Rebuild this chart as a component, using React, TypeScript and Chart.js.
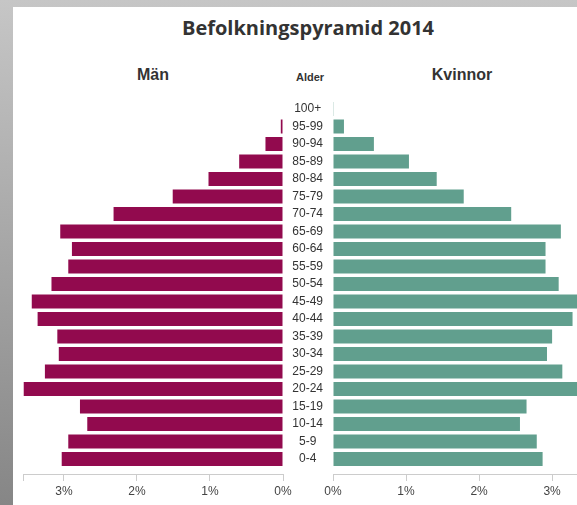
import React, { useEffect, useRef } from "react";
import { Chart, registerables } from "chart.js";

Chart.register(...registerables);

const ageGroups = [
  "100+", "95-99", "90-94", "85-89", "80-84", "75-79", "70-74", "65-69",
  "60-64", "55-59", "50-54", "45-49", "40-44", "35-39", "30-34", "25-29",
  "20-24", "15-19", "10-14", "5-9", "0-4",
];
const menShare = [
  0, 0.03, 0.24, 0.6, 1.02, 1.51, 2.32, 3.05, 2.89, 2.94, 3.17, 3.44, 3.36,
  3.09, 3.07, 3.26, 3.55, 2.78, 2.68, 2.94, 3.03,
];
const womenShare = [
  0.01, 0.15, 0.56, 1.04, 1.42, 1.79, 2.44, 3.12, 2.91, 2.91, 3.09, 3.42,
  3.28, 3.0, 2.93, 3.14, 3.45, 2.65, 2.56, 2.79, 2.87,
];
const percentTicks = [0, 1, 2, 3];
const axisMax = 3.56;

const titleText = "Befolkningspyramid 2014";
const menLabel = "Män";
const womenLabel = "Kvinnor";
const ageLabel = "Alder";

const FONT = "'Liberation Sans', Arial, Helvetica, sans-serif";
const MEN_COLOR = "#920a4e";
const WOMEN_COLOR = "#619f8e";
const AXIS_COLOR = "#cccccc";
const AXIS_AT = 20.9; // category-axis position of the percent axis

function xScale(reverse: boolean, withEnd: boolean) {
  return {
    type: "linear" as const,
    min: 0,
    max: axisMax,
    reverse,
    position: { y: AXIS_AT },
    afterBuildTicks: (scale: any) => {
      const t = percentTicks.map((v) => ({ value: v }));
      if (withEnd) t.push({ value: axisMax });
      scale.ticks = t;
    },
    ticks: {
      autoSkip: false,
      maxRotation: 0,
      padding: 4,
      color: "#444",
      font: { family: FONT, size: 12 },
      callback: (v: any) =>
        Number.isInteger(Number(v)) ? `${v}%` : "",
    },
    grid: {
      display: true,
      drawOnChartArea: false,
      drawTicks: true,
      tickLength: 6,
      color: AXIS_COLOR,
      lineWidth: 1,
    },
    border: { display: true, color: AXIS_COLOR, width: 1 },
  };
}

export default function App() {
  const leftRef = useRef<HTMLCanvasElement>(null);
  const rightRef = useRef<HTMLCanvasElement>(null);

  useEffect(() => {
    const padTop = 93.25;
    const padBottom = 37.25;
    const left = new Chart(leftRef.current as HTMLCanvasElement, {
      type: "bar",
      data: {
        labels: ageGroups,
        datasets: [
          {
            label: menLabel,
            data: menShare,
            backgroundColor: MEN_COLOR,
            borderWidth: 0,
            barPercentage: 0.8,
            categoryPercentage: 1,
          },
        ],
      },
      options: {
        indexAxis: "y",
        animation: false,
        responsive: false,
        devicePixelRatio: 1,
        layout: { padding: { left: 10, right: 10, top: padTop, bottom: padBottom } },
        plugins: { legend: { display: false }, tooltip: { enabled: false }, title: { display: false } },
        scales: {
          x: xScale(true, true) as any,
          y: { type: "category", display: false, offset: true },
        },
      },
    });

    const right = new Chart(rightRef.current as HTMLCanvasElement, {
      type: "bar",
      data: {
        labels: ageGroups,
        datasets: [
          {
            label: womenLabel,
            data: womenShare,
            backgroundColor: WOMEN_COLOR,
            borderWidth: 0,
            barPercentage: 0.8,
            categoryPercentage: 1,
          },
        ],
      },
      options: {
        indexAxis: "y",
        animation: false,
        responsive: false,
        devicePixelRatio: 1,
        layout: { padding: { left: 0, right: 10, top: padTop, bottom: padBottom } },
        plugins: { legend: { display: false }, tooltip: { enabled: false }, title: { display: false } },
        scales: {
          x: xScale(false, false) as any,
          y: {
            type: "category",
            position: "left",
            offset: true,
            grid: { display: false, drawTicks: false },
            border: { display: false },
            afterFit: (scale: any) => {
              scale.width = 50;
            },
            ticks: {
              autoSkip: false,
              crossAlign: "center",
              padding: 10,
              color: "#333",
              font: { family: FONT, size: 12 },
            },
          },
        },
      },
    });

    return () => {
      left.destroy();
      right.destroy();
    };
  }, []);

  const textBox = (
    text: string,
    cx: number,
    cy: number,
    size: number,
    family: string,
    lh: number
  ) => (
    <div
      style={{
        position: "absolute",
        left: cx - 150,
        width: 300,
        top: cy - lh / 2,
        height: lh,
        lineHeight: `${lh}px`,
        textAlign: "center",
        fontFamily: family,
        fontWeight: 700,
        fontSize: size,
        color: "#333",
        whiteSpace: "nowrap",
      }}
    >
      {text}
    </div>
  );

  return (
    <div
      style={{
        position: "fixed",
        left: 0,
        top: 0,
        width: 577,
        height: 505,
        overflow: "hidden",
        background: "linear-gradient(to bottom, #c6c6c6 0%, #868686 100%)",
      }}
    >
      <div
        style={{
          position: "absolute",
          left: 13,
          top: 7,
          right: 0,
          bottom: 0,
          background: "#ffffff",
        }}
      />
      {textBox(titleText, 308, 28, 20, "'Open Sans', sans-serif", 28)}
      {textBox(menLabel, 153, 75, 16, FONT, 20)}
      {textBox(ageLabel, 310, 77, 11, FONT, 14)}
      {textBox(womenLabel, 462, 75, 16, FONT, 20)}
      <canvas
        ref={leftRef}
        width={280}
        height={498}
        style={{ position: "absolute", left: 13, top: 7, width: 280, height: 498 }}
      />
      <canvas
        ref={rightRef}
        width={320}
        height={498}
        style={{ position: "absolute", left: 283, top: 7, width: 320, height: 498 }}
      />
    </div>
  );
}
